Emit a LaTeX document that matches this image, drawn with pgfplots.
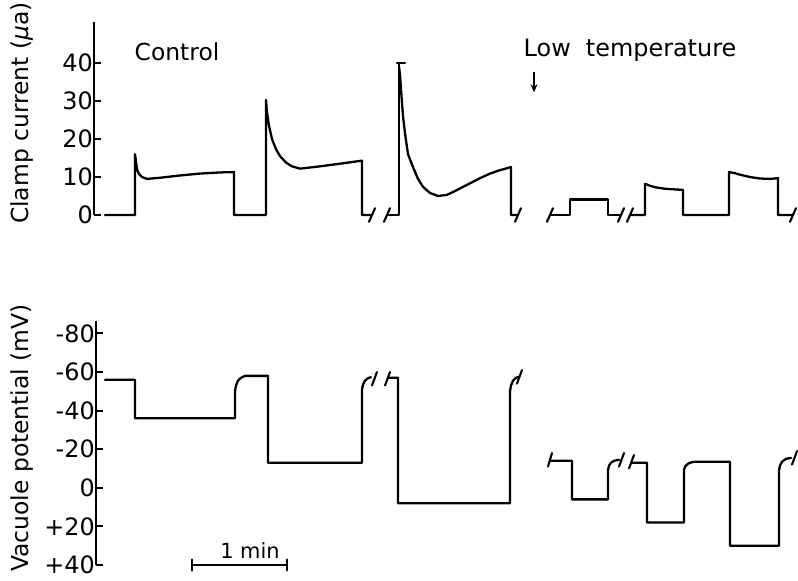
\documentclass[border=0pt]{standalone}
\usepackage{pgfplots}
\pgfplotsset{compat=1.18}
\usepackage{fontspec}
\setmainfont{DejaVu Sans}
\usetikzlibrary{arrows.meta}
\pgfplotsset{
  trace/.style={black, line width=2.3bp, line join=round, line cap=round, mark=none},
  brk/.style={black, line width=2.1bp, line cap=round, mark=none},
  common/.style={
    axis x line=none, axis y line*=left, tick align=inside,
    x=1bp, xmax=798, clip=false,
    axis line style={line width=2bp, black},
    major tick style={line width=2bp, black},
    major tick length=7bp,
    yticklabel style={font=\fontsize{24}{24}\selectfont, inner sep=1bp},
  },
}
\begin{document}
\begin{tikzpicture}
\path[use as bounding box] (0,0) rectangle (798bp,581bp);
\clip (0,0) rectangle (798bp,581bp);
% ---------------- top panel: clamp current
\begin{axis}[common, at={(94bp,366bp)}, anchor=south west,
  xmin=94, y=3.8bp, ymin=0, ymax=50.8,
  ytick={0,10,20,30,40}, yticklabels={0,10,20,30,40}]
\addplot[trace] coordinates {(105,0) (135,0) (135,16) (136,14) (137,12) (139,10.8) (142,10) (147,9.5) (160,9.8) (180,10.4) (200,10.9) (220,11.2) (234,11.3) (234,0) (266,0) (266,30.3) (267,27) (269,23.5) (272,20) (276,17.3) (280,15.5) (286,13.8) (292,12.8) (300,12.2) (320,12.8) (340,13.5) (362,14.3) (362,0) (372,0)};
\addplot[trace] coordinates {(388,0) (399,0) (399,40)};
\addplot[trace] coordinates {(397,40) (405,40)};
\addplot[trace] coordinates {(399,39) (400,37) (401,33) (403,26) (405,21.5) (408,16) (413,12.6) (418,9.5) (423,7.4) (430,5.8) (438,5) (447,5.3) (455,6.3) (463,7.4) (472,8.6) (480,9.7) (490,10.9) (500,11.8) (511,12.6) (511,0) (518,0)};
\addplot[trace] coordinates {(550,0) (570,0) (570,4.1) (608,4.1) (608,0) (621,0)};
\addplot[trace] coordinates {(630,0) (645,0) (645,8.2) (650,7.7) (655,7.3) (665,6.9) (683,6.6) (683,0) (729,0) (729,11.3) (735,11) (740,10.6) (750,10) (760,9.6) (770,9.5) (778,9.7) (778,0) (793,0)};
% break marks
\addplot[brk] coordinates {(369,-1.8) (375,1.8)};
\addplot[brk] coordinates {(384,-1.8) (390,1.8)};
\addplot[brk] coordinates {(515,-1.8) (521,1.8)};
\addplot[brk] coordinates {(547,-1.8) (553,1.8)};
\addplot[brk] coordinates {(618,-1.8) (624,1.8)};
\addplot[brk] coordinates {(627,-1.8) (633,1.8)};
\addplot[brk] coordinates {(790,-1.8) (796,1.8)};
\node[font=\fontsize{23.5}{23.5}\selectfont] at (axis cs:177,42.9) {Control};
\node[font=\fontsize{24}{24}\selectfont] at (axis cs:630,43.4) {Low\ \ temperature};
\draw[line width=1.8bp, -{Stealth[length=8bp,width=7bp]}] (axis cs:534,37.6) -- (axis cs:534,32.3);
\end{axis}
% ---------------- bottom panel: vacuole potential
\begin{axis}[common, at={(96bp,16bp)}, anchor=south west,
  xmin=96, y=1.93bp, y dir=reverse, ymin=-86.5, ymax=40,
  ytick={-80,-60,-40,-20,0,20,40}, yticklabels={-80,-60,-40,-20,0,+20,+40}]
\addplot[trace] coordinates {(105,-56) (135,-56) (135,-36) (235,-36) (235,-50) (236,-53) (238,-55.5) (241,-57) (245,-58) (268,-58) (268,-13) (362,-13) (362,-51) (363,-53.5) (365,-55.5) (368,-56.8) (371,-57.3)};
\addplot[trace] coordinates {(388,-57) (398,-57) (398,8) (510,8) (510,-50) (511,-53) (513,-55.5) (516,-57) (519,-57.5)};
\addplot[trace] coordinates {(550,-14) (572,-14) (572,6) (608,6) (608,-9) (609,-11.5) (611,-13) (614,-14) (619,-14.5)};
\addplot[trace] coordinates {(632,-13) (647,-13) (647,18) (684,18) (684,-9) (685,-11) (688,-12.5) (692,-13.3) (696,-13.5) (730,-13.5) (730,30) (779,30) (779,-9) (780,-11.5) (782,-13.5) (786,-15) (791,-15.5)};
% break marks
\addplot[brk] coordinates {(372,-53) (377,-60)};
\addplot[brk] coordinates {(385,-53) (390,-60)};
\addplot[brk] coordinates {(517,-54) (522,-61)};
\addplot[brk] coordinates {(548,-11) (552,-18)};
\addplot[brk] coordinates {(619,-11) (624,-18)};
\addplot[brk] coordinates {(629,-10) (634,-17)};
\addplot[brk] coordinates {(792,-12) (797,-19)};
% scale bar
\addplot[trace] coordinates {(192,40) (287,40)};
\addplot[trace] coordinates {(192,37.2) (192,42.8)};
\addplot[trace] coordinates {(287,37.2) (287,42.8)};
\node[font=\fontsize{21}{21}\selectfont] at (axis cs:250,32.6) {1 min};
\end{axis}
\node[rotate=90, font=\fontsize{23.5}{23.5}\selectfont] at (22bp,468bp) {Clamp current ({\itshape μ}a)};
\node[rotate=90, font=\fontsize{23.5}{23.5}\selectfont] at (22bp,143bp) {Vacuole potential (mV)};
\end{tikzpicture}
\end{document}
